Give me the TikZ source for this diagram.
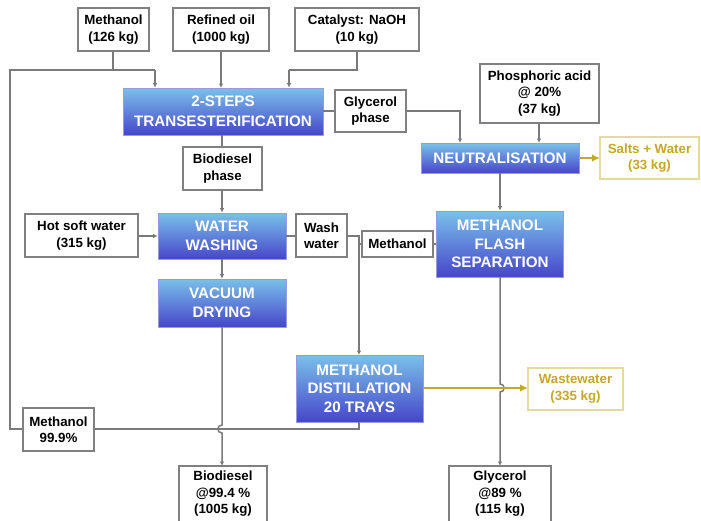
\documentclass[tikz,border=0pt]{standalone}
\usepackage{fontspec}
\setmainfont{Liberation Sans}
\usetikzlibrary{arrows.meta}
\definecolor{flow}{HTML}{7A7A7A}
\definecolor{frame}{HTML}{808080}
\definecolor{gold}{HTML}{C4A828}
\definecolor{goldline}{HTML}{E4DA9E}
\definecolor{unittop}{HTML}{7AC0EA}
\definecolor{unitbot}{HTML}{4646CA}
\tikzset{
  infobox/.style={draw=frame, line width=1.1pt, fill=white, align=center, inner sep=1pt,
    font=\fontsize{13.3}{16.5}\selectfont\bfseries},
  unitbox/.style={draw=unitbot!55!white, line width=0.6pt, top color=unittop, bottom color=unitbot,
    text=white, align=center, inner sep=1pt, font=\fontsize{15.2}{19.5}\selectfont\bfseries},
  outbox/.style={draw=goldline, line width=1.1pt, fill=white, align=center, inner sep=1pt,
    text=gold, font=\fontsize{13.3}{16.5}\selectfont\bfseries},
  pipe/.style={draw=flow, line width=1.5pt},
  feed/.style={pipe, -{Latex[length=4.5pt,width=4.5pt]}},
  waste/.style={draw=gold, line width=2pt, -{Latex[length=8pt,width=7.5pt]}},
  sz/.style n args={2}{minimum width=#1, minimum height=#2}
}
\begin{document}
\begin{tikzpicture}[x=1pt,y=-1pt]
\useasboundingbox (0,0) rectangle (701,520);

% process units
\node[unitbox, sz={200}{47}] (trans) at (223,111.5) {2-STEPS\\TRANSESTERIFICATION};
\node[unitbox, sz={158}{30}] (neut) at (500,158) {NEUTRALISATION};
\node[unitbox, sz={128}{46}] (wash) at (222,236) {WATER\\WASHING};
\node[unitbox, sz={127}{66}, font=\fontsize{15.2}{18.5}\selectfont\bfseries] (flash) at (500,244) {METHANOL\\FLASH\\SEPARATION};
\node[unitbox, sz={128}{48}] (vac) at (222,303) {VACUUM\\DRYING};
\node[unitbox, sz={127}{67}, font=\fontsize{15.2}{18.5}\selectfont\bfseries] (dist) at (359.5,388.5) {METHANOL\\DISTILLATION\\20 TRAYS};

% anchor points of the recycle loop and feed junctions
\coordinate (jm) at (113,70);
\coordinate (jl) at (10,70);
\coordinate (jin) at (155,70);
\coordinate (jcat) at (289,70);
\coordinate (jbl) at (10,429);

% connectors (drawn before the labelled boxes so those sit on top)
\draw[pipe] (359,422) |- (jbl) -- (jl) -- (jin);
\draw[feed] (jin) -- (jin |- trans.north);
\draw[pipe] (113,51) -- (jm);
\draw[feed] (221,51) -- (221,88);
\draw[pipe] (357,51) |- (jcat);
\draw[feed] (jcat) -- (jcat |- trans.north);
\draw[pipe] (trans.east |- 0,111) -- (335,111);
\draw[feed] (406,111) -| (460,143);
\draw[feed] (539,123) -- (539,143);
\draw[feed] (neut.south) -- (flash.north);
\draw[pipe] (222,135) -- (222,147);
\draw[feed] (222,190) -- (wash.north);
\draw[feed] (138,236) -- (wash.west);
\draw[pipe] (wash.east) -- (296,236);
\draw[feed] (347,236) -| (359,355);
\draw[pipe] (362,244) -- (359,244);
\draw[pipe] (433,244) -- (flash.west);
\draw[feed] (wash.south) -- (vac.north);
% product lines with line jumps over the crossing streams
\draw[feed] (vac.south) -- (222,425) .. controls (216.5,425) and (216.5,433) .. (222,433) -- (222,466);
\draw[feed] (flash.south) -- (500,384) .. controls (505.5,384) and (505.5,392) .. (500,392) -- (500,466);
\draw[waste] (dist.east |- 0,388) -- (528,388);
\draw[waste] (neut.east) -- (600,158);

% streams and labels
\node[infobox, sz={71}{43}] (m126) at (113.5,29.5) {Methanol\\(126 kg)};
\node[infobox, sz={96}{43}] (oil) at (221,29.5) {Refined oil\\(1000 kg)};
\node[infobox, sz={124}{43}] (cat) at (357,29.5) {Catalyst: NaOH\\(10 kg)};
\node[infobox, sz={71}{42}] (glyph) at (370.5,111) {Glycerol\\phase};
\node[infobox, sz={119}{59}] (phos) at (539.5,93.5) {Phosphoric acid\\@ 20\%\\(37 kg)};
\node[outbox, sz={99}{42}] (salts) at (649.5,158) {Salts + Water\\(33 kg)};
\node[infobox, sz={79}{43}] (bphase) at (222.5,168.5) {Biodiesel\\phase};
\node[infobox, sz={113}{43}] (hot) at (81.5,235.5) {Hot soft water\\(315 kg)};
\node[infobox, sz={51}{43}] (wwater) at (321.5,235.5) {Wash\\water};
\node[infobox, sz={71}{26}] (meth) at (397.5,244) {Methanol};
\node[outbox, sz={95}{42}] (wastew) at (575.5,389) {Wastewater\\(335 kg)};
\node[infobox, sz={71}{43}] (m999) at (58.5,429.5) {Methanol\\99.9\%};
\node[infobox, sz={88}{56}] (bio) at (223,494) {Biodiesel\\@99.4 \%\\(1005 kg)};
\node[infobox, sz={102}{56}] (gly) at (500,494) {Glycerol\\@89 \%\\(115 kg)};
\end{tikzpicture}
\end{document}
